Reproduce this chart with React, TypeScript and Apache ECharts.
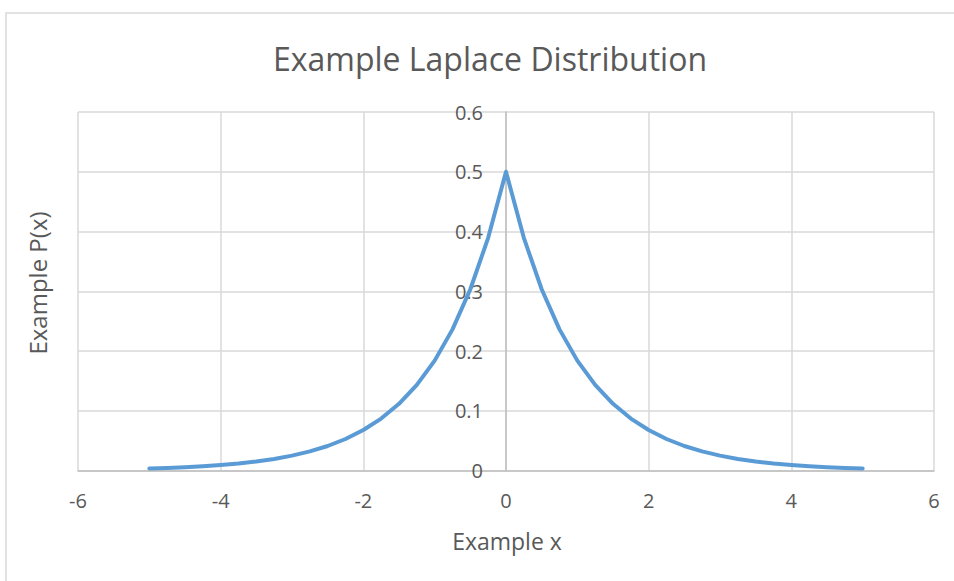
import React, { useEffect, useRef } from "react";
import * as echarts from "echarts";

const xValues = [
  -5, -4.75, -4.5, -4.25, -4, -3.75, -3.5, -3.25, -3, -2.75, -2.5, -2.25, -2, -1.75, -1.5, -1.25, -1, -0.75, -0.5, -0.25,
  0, 0.25, 0.5, 0.75, 1, 1.25, 1.5, 1.75, 2, 2.25, 2.5, 2.75, 3, 3.25, 3.5, 3.75, 4, 4.25, 4.5, 4.75, 5,
];
const pValues = [
  0.0034, 0.0043, 0.0056, 0.0071, 0.0092, 0.0118, 0.0151, 0.0194, 0.0249, 0.032, 0.041, 0.0527, 0.0677, 0.0869, 0.1116,
  0.1433, 0.1839, 0.2362, 0.3033, 0.3894, 0.5, 0.3894, 0.3033, 0.2362, 0.1839, 0.1433, 0.1116, 0.0869, 0.0677, 0.0527,
  0.041, 0.032, 0.0249, 0.0194, 0.0151, 0.0118, 0.0092, 0.0071, 0.0056, 0.0043, 0.0034,
];
const titleText = "Example Laplace Distribution";
const xName = "Example x";
const yName = "Example P(x)";

export default function App() {
  const ref = useRef<HTMLDivElement>(null);
  useEffect(() => {
    if (!ref.current) return;
    const chart = echarts.init(ref.current, null, { renderer: "svg" });
    const font = "'Open Sans', sans-serif";
    chart.setOption({
      animation: false,
      backgroundColor: "#ffffff",
      textStyle: { fontFamily: font },
      graphic: [
        {
          type: "rect",
          shape: { x: 6, y: 13, width: 960, height: 600 },
          style: { fill: "none", stroke: "#d9d9d9", lineWidth: 1.5 },
          silent: true,
        },
        {
          type: "text",
          x: 490,
          y: 58,
          style: {
            text: titleText,
            fontSize: 32,
            fontFamily: font,
            fill: "#595959",
            align: "center",
            verticalAlign: "middle",
          },
        },
        {
          type: "text",
          x: 507,
          y: 541,
          style: {
            text: xName,
            fontSize: 23,
            fontFamily: font,
            fill: "#595959",
            align: "center",
            verticalAlign: "middle",
          },
        },
        {
          type: "text",
          x: 37,
          y: 283,
          rotation: Math.PI / 2,
          style: {
            text: yName,
            fontSize: 24,
            fontFamily: font,
            fill: "#595959",
            align: "center",
            verticalAlign: "middle",
          },
        },
      ],
      grid: { left: 78, right: 20, top: 112, bottom: 110.5, containLabel: false },
      xAxis: {
        type: "value",
        min: -6,
        max: 6,
        interval: 2,
        axisLine: { show: true, lineStyle: { color: "#bfbfbf", width: 1.5 } },
        axisTick: { show: false },
        axisLabel: { color: "#595959", fontSize: 20, fontFamily: font, margin: 20 },
        splitLine: { show: true, lineStyle: { color: "#d9d9d9", width: 1.5 } },
      },
      yAxis: {
        type: "value",
        min: 0,
        max: 0.6,
        interval: 0.1,
        axisLine: { show: true, onZero: true, lineStyle: { color: "#bfbfbf", width: 1.5 } },
        axisTick: { show: false },
        axisLabel: {
          color: "#595959",
          fontSize: 20,
          fontFamily: font,
          margin: -405,
          formatter: (v: number) => (v === 0 ? "0" : String(Math.round(v * 10) / 10)),
        },
        splitLine: { show: true, lineStyle: { color: "#d9d9d9", width: 1.5 } },
      },
      series: [
        {
          type: "line",
          data: xValues.map((x, i) => [x, pValues[i]]),
          showSymbol: false,
          lineStyle: { color: "#5b9bd5", width: 4, cap: "round", join: "round" },
          itemStyle: { color: "#5b9bd5" },
        },
      ],
    });
    return () => chart.dispose();
  }, []);
  return (
    <div
      ref={ref}
      style={{ position: "fixed", left: 0, top: 0, width: 954, height: 581 }}
    />
  );
}
